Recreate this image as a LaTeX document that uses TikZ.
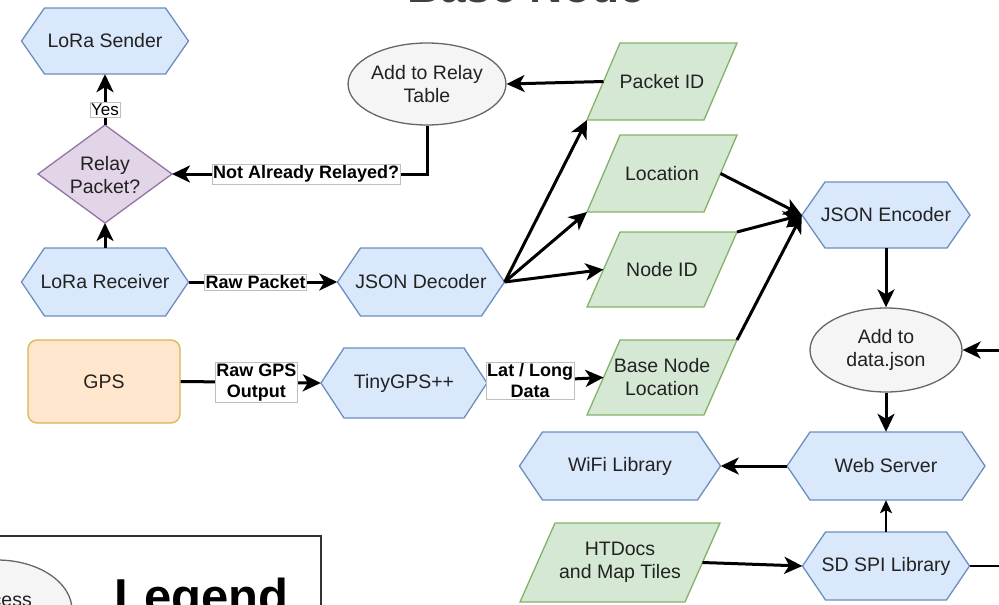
\documentclass[tikz,border=0pt]{standalone}
\usepackage{fontspec}
\setmainfont{Liberation Sans}
\usetikzlibrary{arrows.meta,shapes.geometric}
\definecolor{hexfill}{HTML}{DAE8FC}
\definecolor{hexdraw}{HTML}{6C8EBF}
\definecolor{parfill}{HTML}{D5E8D4}
\definecolor{pardraw}{HTML}{82B366}
\definecolor{ellfill}{HTML}{F5F5F5}
\definecolor{elldraw}{HTML}{666666}
\definecolor{diafill}{HTML}{E1D5E7}
\definecolor{diadraw}{HTML}{9673A6}
\definecolor{gpsfill}{HTML}{FFE6CC}
\definecolor{gpsdraw}{HTML}{D6B656}
\definecolor{txtcol}{HTML}{222222}
\tikzset{
 txt/.style={font=\fontsize{19.5}{23}\selectfont, text=txtcol, align=center, inner sep=0pt},
 hexshape/.style={fill=hexfill, draw=hexdraw, line width=1.3pt},
 parshape/.style={fill=parfill, draw=pardraw, line width=1.3pt},
 ellnode/.style={txt, ellipse, fill=ellfill, draw=elldraw, line width=1.3pt},
 lbl/.style={font=\bfseries\fontsize{18}{21}\selectfont, fill=white, draw=black!25, line width=0.6pt, inner xsep=1pt, inner ysep=1.5pt, align=center, text=black},
 arr/.style={line width=3pt, -{Stealth[length=18pt, width=17pt, inset=5pt]}},
 thinarr/.style={line width=1.6pt, -{Stealth[length=13pt, width=12pt, inset=3pt]}},
}
\newcommand\hexa[6]{%
 \path[hexshape] ({#2-#4/2},#3) -- ({#2-#4/2+23},{#3-#5/2}) -- ({#2+#4/2-23},{#3-#5/2}) -- ({#2+#4/2},#3) -- ({#2+#4/2-23},{#3+#5/2}) -- ({#2-#4/2+23},{#3+#5/2}) -- cycle;
 \node[txt, minimum width=#4, minimum height=#5] (#1) at (#2,#3) {#6};}
\newcommand\para[7]{%
 \path[parshape] ({#2-#4/2+#6},{#3-#5/2}) -- ({#2+#4/2},{#3-#5/2}) -- ({#2+#4/2-#6},{#3+#5/2}) -- ({#2-#4/2},{#3+#5/2}) -- cycle;
 \node[txt] (#1) at (#2,#3) {#7};
 \coordinate (#1-bl) at ({#2-#4/2},{#3+#5/2});
 \coordinate (#1-tr) at ({#2+#4/2},{#3-#5/2});
 \coordinate (#1-l) at ({#2-#4/2+#6/2},#3);
 \coordinate (#1-r) at ({#2+#4/2-#6/2},#3);}
\begin{document}
\begin{tikzpicture}[x=1pt,y=-1pt]
\useasboundingbox (0,0) rectangle (999,605);
\clip (0,0) rectangle (999,605);
% title (mostly cut off)
\node[font=\bfseries\fontsize{46}{50}\selectfont, text=black!75, anchor=base, inner sep=0pt] (title) at (526,2.5) {Base Node};
% nodes
\hexa{sender}{105}{41}{167}{66}{LoRa Sender}
\path[fill=diafill, draw=diadraw, line width=1.3pt] (105,125) -- (172,174) -- (105,223) -- (38,174) -- cycle;
\node[txt] (relaypkt) at (105,175) {Relay\\Packet?};
\coordinate (relaypkt-t) at (105,125);
\coordinate (relaypkt-r) at (172,174);
\coordinate (relaypkt-b) at (105,223);
\node[ellnode, minimum width=147, minimum height=82] (relaytable) at (427,84) {Add to Relay\\Table};
\hexa{receiver}{105}{282}{167}{68}{LoRa Receiver}
\hexa{decoder}{421}{282}{167}{68}{JSON Decoder}
\node[txt, rectangle, rounded corners=9pt, fill=gpsfill, draw=gpsdraw, line width=1.3pt, minimum width=152, minimum height=83] (gps) at (104,381.5) {GPS};
\hexa{tiny}{404}{383}{166}{70}{TinyGPS++}
\para{pid}{662}{81.5}{150}{77}{33}{Packet ID}
\para{loc}{662}{173.5}{150}{77}{33}{Location}
\para{nid}{662}{269.5}{150}{75}{33}{Node ID}
\para{bnl}{662}{377.5}{150}{75}{33}{Base Node\\Location}
\hexa{encoder}{886}{215}{168}{66}{JSON Encoder}
\node[ellnode, minimum width=152, minimum height=84] (datajson) at (886,350) {Add to\\data.json};
\hexa{web}{886}{466}{198}{68}{Web Server}
\hexa{wifi}{620}{466}{201}{68}{WiFi Library}
\hexa{sdspi}{886}{566}{167}{68}{SD SPI Library}
\para{htdocs}{620}{562.5}{200}{79}{35}{HTDocs\\and Map Tiles}
% legend (cut off)
\draw[line width=1.5pt, draw=black!80] (-5,536) rectangle (321,680);
\node[ellnode, minimum width=150, minimum height=100] (procell) at (-3,610) {};
\node[txt, anchor=base east] (proctext) at (32,606) {Process};
\node[font=\bfseries\fontsize{49}{52}\selectfont, anchor=base west, inner sep=0pt] (legendtitle) at (114,613) {Legend};
% connectors
\draw[arr] (relaypkt-t) -- (sender.south) node[lbl, font=\fontsize{17}{20}\selectfont, pos=0.3] {Yes};
\draw[arr] (relaytable.south) |- (relaypkt-r) node[lbl, pos=0.737] {Not Already Relayed?};
\draw[arr] (receiver.north) -- (relaypkt-b);
\draw[arr] (receiver.east) -- (decoder.west) node[lbl, pos=0.45] {Raw Packet};
\draw[arr] (decoder.east) -- (pid-bl);
\draw[arr] (decoder.east) -- (loc-bl);
\draw[arr] (decoder.east) -- (nid-l);
\draw[arr] (pid-l) -- (relaytable.east);
\draw[arr] (loc-r) -- (encoder.west);
\draw[arr] (nid-tr) -- (encoder.west);
\draw[arr] (bnl-tr) -- (encoder.west);
\draw[arr] (encoder.south) -- (datajson.north);
\draw[arr] (datajson.south) -- (web.north);
\coordinate (rin) at (1010,350);
\draw[arr] (rin) -- (datajson.east);
\draw[arr] (web.west) -- (wifi.east);
\draw[thinarr] (sdspi.north) -- (web.south);
\draw[arr] (htdocs-r) -- (sdspi.west);
\coordinate (rout) at (1010,566);
\draw[line width=2pt] (sdspi.east) -- (rout);
\draw[arr] (gps.east) -- (tiny.west) node[lbl, pos=0.54] {Raw GPS\\Output};
\draw[arr] (tiny.east) -- (bnl-l) node[lbl, pos=0.37] {Lat / Long\\Data};
\end{tikzpicture}
\end{document}
